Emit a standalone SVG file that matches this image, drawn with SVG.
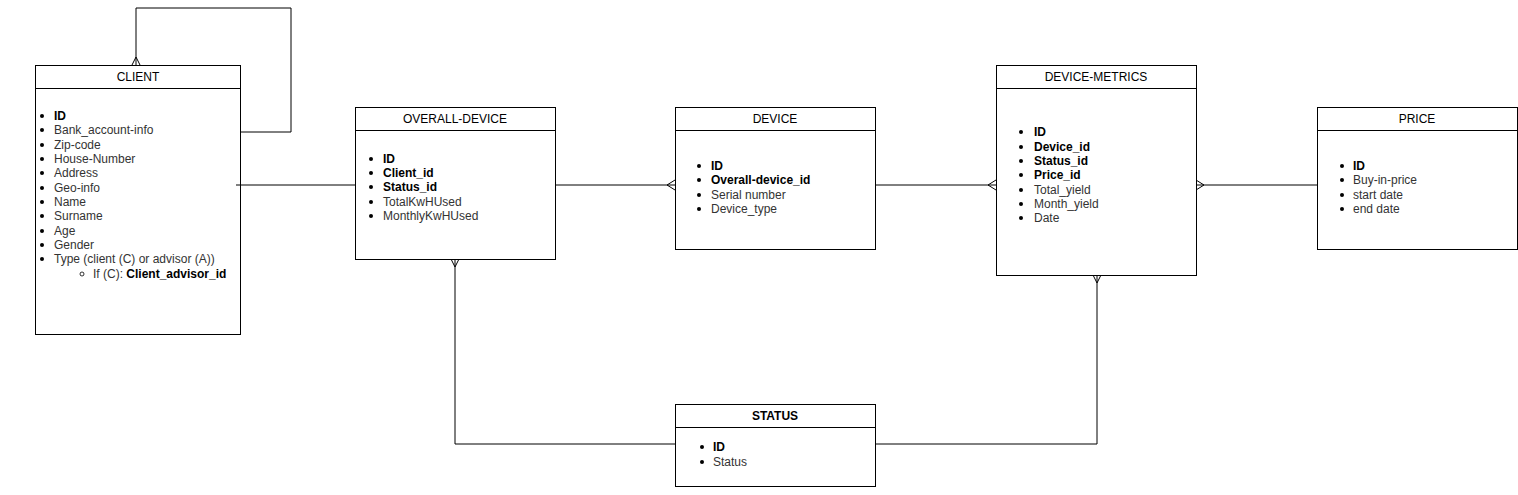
<svg xmlns="http://www.w3.org/2000/svg" width="1518" height="495" viewBox="0 0 1518 495">
<style>
.box{fill:#fff;stroke:#000;stroke-width:1}
.hl{stroke:#000;stroke-width:1}
.t{font-family:"Liberation Sans",Arial,sans-serif;font-size:12px;fill:#000;text-anchor:middle}
.i{font-family:"Liberation Sans",Arial,sans-serif;font-size:12px;fill:#333}
.b{font-weight:bold;fill:#000}
.c{fill:none;stroke:#000;stroke-width:1}
</style>
<rect width="1518" height="495" fill="#fff"/>
<g id="client">
<rect class="box" x="35.5" y="65.5" width="205" height="269"/>
<line class="hl" x1="35.5" y1="88.5" x2="240.5" y2="88.5"/>
<text class="t" x="138" y="81">CLIENT</text>
<g class="i">
<text x="54" y="120" class="b">ID</text>
<text x="54" y="134">Bank_account-info</text>
<text x="54" y="149">Zip-code</text>
<text x="54" y="163">House-Number</text>
<text x="54" y="177">Address</text>
<text x="54" y="192">Geo-info</text>
<text x="54" y="206">Name</text>
<text x="54" y="220">Surname</text>
<text x="54" y="235">Age</text>
<text x="54" y="249">Gender</text>
<text x="54" y="263">Type (client (C) or advisor (A))</text>
<text x="93" y="278">If (C): <tspan class="b">Client_advisor_id</tspan></text>
</g>
<g fill="#000">
<circle cx="42" cy="116" r="2"/><circle cx="42" cy="130" r="2"/><circle cx="42" cy="145" r="2"/><circle cx="42" cy="159" r="2"/><circle cx="42" cy="173" r="2"/><circle cx="42" cy="188" r="2"/><circle cx="42" cy="202" r="2"/><circle cx="42" cy="216" r="2"/><circle cx="42" cy="231" r="2"/><circle cx="42" cy="245" r="2"/><circle cx="42" cy="259" r="2"/>
</g>
<circle cx="82" cy="274" r="2" fill="none" stroke="#000" stroke-width="0.8"/>
</g>
<g id="overall-device">
<rect class="box" x="355.5" y="107.5" width="200" height="152"/>
<line class="hl" x1="355.5" y1="130.5" x2="555.5" y2="130.5"/>
<text class="t" x="455" y="123">OVERALL-DEVICE</text>
<g class="i">
<text x="383" y="163" class="b">ID</text>
<text x="383" y="177" class="b">Client_id</text>
<text x="383" y="191" class="b">Status_id</text>
<text x="383" y="206">TotalKwHUsed</text>
<text x="383" y="220">MonthlyKwHUsed</text>
</g>
<g fill="#000"><circle cx="371" cy="159" r="2"/><circle cx="371" cy="173" r="2"/><circle cx="371" cy="187" r="2"/><circle cx="371" cy="202" r="2"/><circle cx="371" cy="216" r="2"/></g>
</g>
<g id="device">
<rect class="box" x="675.5" y="107.5" width="200" height="142"/>
<line class="hl" x1="675.5" y1="130.5" x2="875.5" y2="130.5"/>
<text class="t" x="775" y="123">DEVICE</text>
<g class="i">
<text x="711" y="170" class="b">ID</text>
<text x="711" y="184" class="b">Overall-device_id</text>
<text x="711" y="199">Serial number</text>
<text x="711" y="213">Device_type</text>
</g>
<g fill="#000"><circle cx="699" cy="166" r="2"/><circle cx="699" cy="180" r="2"/><circle cx="699" cy="195" r="2"/><circle cx="699" cy="209" r="2"/></g>
</g>
<g id="device-metrics">
<rect class="box" x="996.5" y="65.5" width="200" height="210"/>
<line class="hl" x1="996.5" y1="88.5" x2="1196.5" y2="88.5"/>
<text class="t" x="1096" y="81">DEVICE-METRICS</text>
<g class="i">
<text x="1034" y="136" class="b">ID</text>
<text x="1034" y="151" class="b">Device_id</text>
<text x="1034" y="165" class="b">Status_id</text>
<text x="1034" y="179" class="b">Price_id</text>
<text x="1034" y="194">Total_yield</text>
<text x="1034" y="208">Month_yield</text>
<text x="1034" y="222">Date</text>
</g>
<g fill="#000"><circle cx="1021" cy="132" r="2"/><circle cx="1021" cy="147" r="2"/><circle cx="1021" cy="161" r="2"/><circle cx="1021" cy="175" r="2"/><circle cx="1021" cy="190" r="2"/><circle cx="1021" cy="204" r="2"/><circle cx="1021" cy="218" r="2"/></g>
</g>
<g id="price">
<rect class="box" x="1317.5" y="107.5" width="200" height="142"/>
<line class="hl" x1="1317.5" y1="130.5" x2="1517.5" y2="130.5"/>
<text class="t" x="1417" y="123">PRICE</text>
<g class="i">
<text x="1353" y="170" class="b">ID</text>
<text x="1353" y="184">Buy-in-price</text>
<text x="1353" y="199">start date</text>
<text x="1353" y="213">end date</text>
</g>
<g fill="#000"><circle cx="1342" cy="166" r="2"/><circle cx="1342" cy="180" r="2"/><circle cx="1342" cy="195" r="2"/><circle cx="1342" cy="209" r="2"/></g>
</g>
<g id="status">
<rect class="box" x="675.5" y="404.5" width="200" height="82"/>
<line class="hl" x1="675.5" y1="427.5" x2="875.5" y2="427.5"/>
<text class="t b" x="775" y="420">STATUS</text>
<g class="i">
<text x="713" y="451" class="b">ID</text>
<text x="713" y="466">Status</text>
</g>
<g fill="#000"><circle cx="702" cy="447" r="2"/><circle cx="702" cy="462" r="2"/></g>
</g>
<g id="connectors">
<path class="c" d="M136 65 V8 H291 V132 H240"/>
<path class="c" d="M132 65 L136 57 L140 65"/>
<path class="c" d="M236 185 H355"/>
<path class="c" d="M555 185 H675"/>
<path class="c" d="M675 180 L667 185 L675 190"/>
<path class="c" d="M875 185 H996"/>
<path class="c" d="M996 180 L988 185 L996 190"/>
<path class="c" d="M1196 185 H1317"/>
<path class="c" d="M1196 180 L1204 185 L1196 190"/>
<path class="c" d="M455 259 V444 H675"/>
<path class="c" d="M451 259 L455 267 L459 259"/>
<path class="c" d="M1097 275 V444 H875"/>
<path class="c" d="M1093 275 L1097 283 L1101 275"/>
</g>
</svg>
